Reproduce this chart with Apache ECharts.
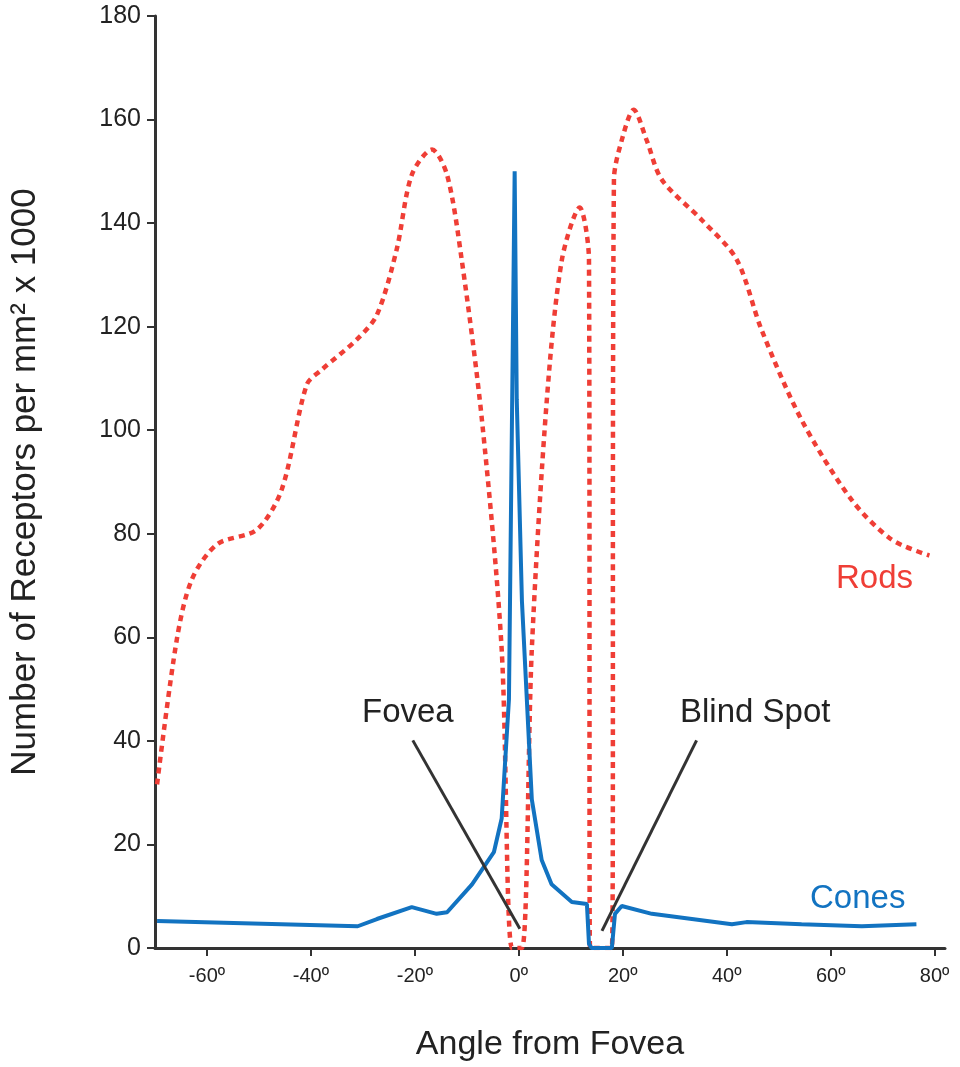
<!DOCTYPE html>
<html>
<head>
<meta charset="utf-8">
<script src="https://cdn.jsdelivr.net/npm/echarts@6/dist/echarts.min.js"></script>
<style>html,body{margin:0;padding:0;background:#fff}#chart{width:960px;height:1067px}</style>
</head>
<body>
<div id="chart"></div>
<script>
// rods (dotted red) - angle, density x1000
var rodsX = [-69.6, -65.8, -62.9, -58, -50.4, -45.6, -40.8, -37.9, -31.2, -27.3, -23.5, -20.6, -16.7, -13.8, -11, -7.1, -3.3, -1.3, 0.6, 2.5, 5.4, 8.3, 11.7, 13.5, 13.7, 17.9, 18.3, 19.8, 22.1, 24.6, 27.5, 35.2, 41.9, 46.7, 54.4, 64, 71.7, 79];
var rodsY = [31.6, 59.6, 71.2, 78, 80.8, 88.6, 108.8, 111.7, 117.5, 122.3, 134.9, 149.3, 154.2, 149.3, 133, 102, 57.7, 0, 0, 57.7, 106, 133, 143, 133, 0, 0, 148.4, 156, 161.9, 156, 148.4, 140.6, 133, 119.4, 102, 86.6, 78.9, 75.8];
// cones (solid blue)
var conesX = [-69.6, -31, -27.3, -20.6, -15.8, -13.8, -9, -4.8, -3.3, -1.9, -0.8, -0.4, 0.6, 2.5, 4.4, 6.3, 10.2, 13.1, 13.5, 14, 17.9, 18.5, 19.8, 25.6, 41, 43.8, 54.4, 66, 76.5];
var conesY = [5.2, 4.2, 5.6, 7.9, 6.6, 6.9, 12.3, 18.5, 25, 48, 150, 106, 67, 28.7, 17, 12.3, 8.9, 8.5, 0.8, 0, 0, 6.6, 8.1, 6.6, 4.6, 5, 4.6, 4.2, 4.6];
var xTicks = [-60, -40, -20, 0, 20, 40, 60, 80];
var foveaLine = [[-20.4, 40.1], [0.2, 3.7]];
var blindLine = [[34.2, 40.1], [16, 3.3]];

function zip(xs, ys) {
    var out = [];
    for (var i = 0; i < xs.length; i++) out.push([xs[i], ys[i]]);
    return out;
}

var font = 'Liberation Sans';
var myChart = echarts.init(document.getElementById('chart'));
var option = {
    animation: false,
    textStyle: { fontFamily: font },
    grid: { left: 151, right: 15, top: 16, bottom: 118 },
    xAxis: {
        type: 'value', min: -70, max: 82,
        name: 'Angle from Fovea', nameLocation: 'middle', nameGap: 80,
        nameTextStyle: { fontSize: 34, color: '#222', fontFamily: font },
        axisLine: { onZero: false, lineStyle: { color: '#333', width: 3 } },
        axisTick: { show: true, length: 8, lineStyle: { color: '#333', width: 2 }, customValues: xTicks },
        axisLabel: { fontSize: 20, color: '#222', margin: 18, customValues: xTicks, formatter: function (v) { return v + 'º'; } },
        splitLine: { show: false }
    },
    yAxis: {
        type: 'value', min: 0, max: 180, interval: 20,
        name: 'Number of Receptors per mm² x 1000', nameLocation: 'middle', nameGap: 112,
        nameTextStyle: { fontSize: 35, color: '#222', fontFamily: font },
        axisLine: { show: true, onZero: false, lineStyle: { color: '#333', width: 3 } },
        axisTick: { show: true, length: 8, lineStyle: { color: '#333', width: 2 } },
        axisLabel: { fontSize: 25, color: '#222', margin: 14 },
        splitLine: { show: false }
    },
    series: [
        { type: 'line', data: zip(rodsX, rodsY), smooth: 0.3, symbol: 'none',
          lineStyle: { color: '#ef3e36', width: 4.5, type: [6, 5] } },
        { type: 'line', data: zip(conesX, conesY), symbol: 'none',
          lineStyle: { color: '#1273c1', width: 4 } },
        { type: 'line', data: foveaLine, symbol: 'none', lineStyle: { color: '#333', width: 3 } },
        { type: 'line', data: blindLine, symbol: 'none', lineStyle: { color: '#333', width: 3 } }
    ],
    graphic: [
        { type: 'text', left: 362, top: 696, style: { text: 'Fovea', fontSize: 33, fill: '#222', fontFamily: font } },
        { type: 'text', left: 680, top: 696, style: { text: 'Blind Spot', fontSize: 33, fill: '#222', fontFamily: font } },
        { type: 'text', left: 836, top: 562, style: { text: 'Rods', fontSize: 33, fill: '#ef3e36', fontFamily: font } },
        { type: 'text', left: 810, top: 882, style: { text: 'Cones', fontSize: 33, fill: '#1273c1', fontFamily: font } }
    ]
};
myChart.setOption(option);
</script>
</body>
</html>
